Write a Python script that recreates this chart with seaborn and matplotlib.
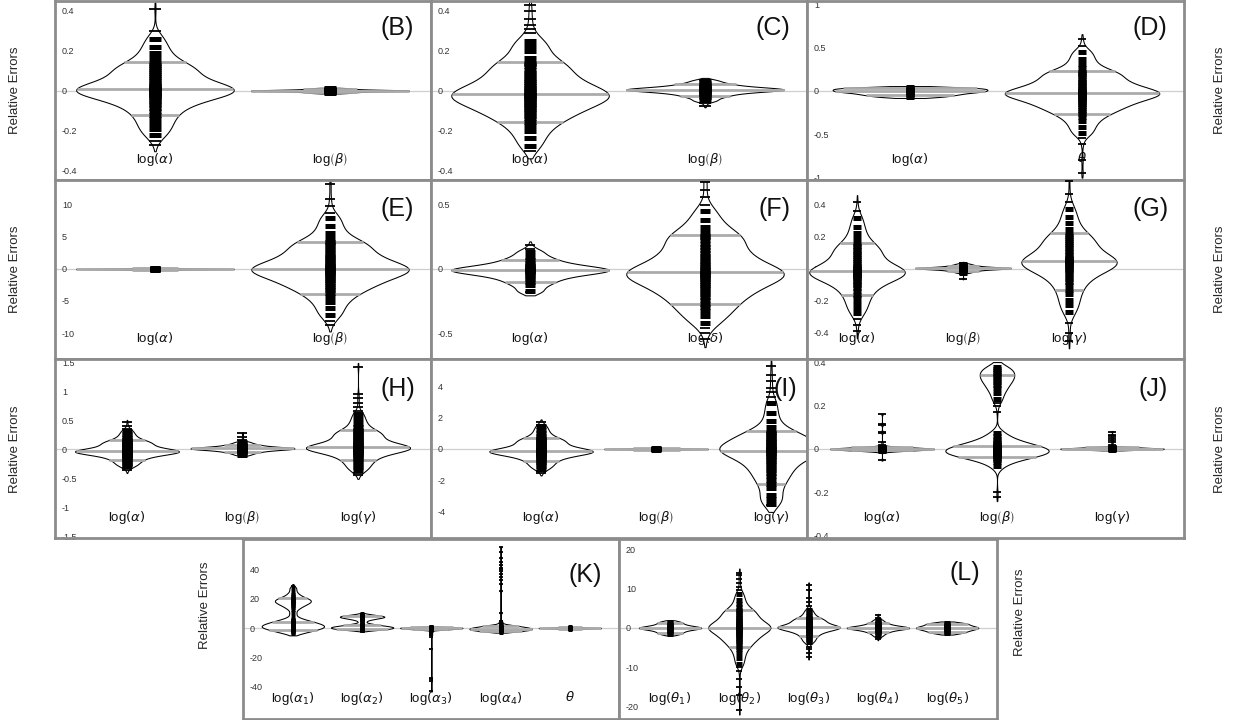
import numpy as np
import pandas as pd
import matplotlib
matplotlib.use("Agg")
import matplotlib.pyplot as plt
from matplotlib.ticker import FuncFormatter
import seaborn as sns

# ---------------- data ----------------
# *_body : values describing the bulk of each bean (each stands for many runs)
# *_out  : isolated single observations in the tails
B_log_alpha_body = [-0.22, -0.19, -0.165, -0.14, -0.12, -0.10, -0.085, -0.07, -0.06, -0.05, -0.04, -0.03,
                    -0.025, -0.02, -0.015, -0.01, -0.005, 0.0, 0.005, 0.01, 0.01, 0.015, 0.02, 0.025, 0.03,
                    0.04, 0.05, 0.06, 0.07, 0.08, 0.09, 0.10, 0.11, 0.12, 0.13, 0.14, 0.165, 0.19, 0.22, 0.26]
B_log_alpha_out = [-0.27, -0.25, 0.30, 0.41]
B_log_beta_body = [-0.012, -0.008, -0.005, -0.003, -0.002, -0.001, 0.0, 0.001, 0.002, 0.003, 0.005, 0.008, 0.012]
B_log_beta_out = []

C_log_alpha_body = [-0.277, -0.236, -0.202, -0.175, -0.155, -0.139, -0.125, -0.113, -0.102, -0.092, -0.082,
                    -0.073, -0.065, -0.056, -0.048, -0.042, -0.035, -0.029, -0.024, -0.02, -0.015, -0.009,
                    -0.002, 0.006, 0.014, 0.023, 0.033, 0.042, 0.054, 0.065, 0.078, 0.09, 0.105, 0.121, 0.132,
                    0.14, 0.164, 0.196, 0.225, 0.25]
C_log_alpha_out = [-0.30, 0.29, 0.31, 0.33, 0.36, 0.40, 0.43]
C_log_beta_body = [-0.049, -0.034, -0.025, -0.0175, -0.0115, -0.007, -0.0034, -0.0001, 0.0026, 0.005, 0.005,
                   0.007, 0.009, 0.012, 0.015, 0.019, 0.024, 0.03, 0.0375, 0.05]
C_log_beta_out = [-0.075, -0.06, 0.055]

D_log_alpha_body = [-0.07, -0.05, -0.035, -0.02, -0.01, 0.0, 0.01, 0.02, 0.03, 0.04]
D_log_alpha_out = []
D_theta_body = [-0.486, -0.414, -0.354, -0.306, -0.27, -0.241, -0.217, -0.196, -0.176, -0.157, -0.14, -0.124,
                -0.109, -0.095, -0.08, -0.068, -0.056, -0.047, -0.037, -0.03, -0.022, -0.012, -0.002, 0.01,
                0.022, 0.037, 0.052, 0.067, 0.085, 0.102, 0.122, 0.142, 0.165, 0.19, 0.207, 0.22, 0.257, 0.307,
                0.37, 0.445]
D_theta_out = [-0.95, -0.80, -0.62, -0.55, 0.52, 0.60]

E_log_alpha_body = [-0.15, -0.08, -0.04, -0.02, 0.0, 0.02, 0.04, 0.08, 0.15]
E_log_alpha_out = []
E_log_beta_body = [-7.2, -6.1, -5.1, -4.4, -3.8, -3.3, -3.0, -2.6, -2.3, -2.0, -1.75, -1.5, -1.25, -1.0, -0.8,
                   -0.6, -0.42, -0.27, -0.11, 0.0, 0.13, 0.29, 0.46, 0.67, 0.88, 1.13, 1.39, 1.64, 1.93, 2.23,
                   2.56, 2.9, 3.28, 3.7, 3.99, 4.2, 4.83, 5.67, 6.72, 7.98]
E_log_beta_out = [-8.8, -8.2, 8.8, 9.8, 11.0, 13.2]

F_log_alpha_body = [-0.172, -0.127, -0.1, -0.078, -0.06, -0.046, -0.035, -0.025, -0.017, -0.01, -0.01, -0.004,
                    0.004, 0.012, 0.022, 0.034, 0.05, 0.07, 0.094, 0.134]
F_log_alpha_out = [-0.18, 0.16, 0.19]
F_log_delta_body = [-0.42, -0.37, -0.33, -0.30, -0.27, -0.241, -0.217, -0.196, -0.176, -0.157, -0.14, -0.124,
                    -0.109, -0.095, -0.08, -0.068, -0.056, -0.047, -0.037, -0.03, -0.021, -0.01, 0.002, 0.016,
                    0.031, 0.048, 0.066, 0.083, 0.103, 0.124, 0.147, 0.17, 0.196, 0.225, 0.246, 0.26, 0.29,
                    0.33, 0.38, 0.45]
F_log_delta_out = [-0.55, -0.50, -0.46, 0.50, 0.56, 0.62, 0.68, 0.74, 0.80]

G_log_alpha_body = [-0.276, -0.241, -0.213, -0.183, -0.16, -0.138, -0.12, -0.103, -0.091, -0.079, -0.067,
                    -0.057, -0.051, -0.045, -0.039, -0.033, -0.028, -0.022, -0.016, -0.01, -0.01, -0.003, 0.004,
                    0.01, 0.016, 0.029, 0.043, 0.055, 0.068, 0.082, 0.095, 0.107, 0.121, 0.135, 0.146, 0.16,
                    0.192, 0.225, 0.265, 0.316]
G_log_alpha_out = [-0.39, -0.35, -0.31, 0.36, 0.42]
G_log_beta_body = [-0.022, -0.0145, -0.01, -0.006, -0.003, -0.001, 0.001, 0.0025, 0.004, 0.005, 0.005, 0.006,
                   0.0075, 0.009, 0.011, 0.013, 0.016, 0.02, 0.0245, 0.032]
G_log_beta_out = [-0.06, -0.03, 0.04]
G_log_gamma_body = [-0.269, -0.227, -0.193, -0.157, -0.13, -0.103, -0.081, -0.062, -0.047, -0.033, -0.018,
                    -0.006, 0.001, 0.009, 0.016, 0.023, 0.028, 0.036, 0.043, 0.05, 0.05, 0.057, 0.064, 0.07,
                    0.076, 0.089, 0.103, 0.115, 0.128, 0.142, 0.155, 0.167, 0.181, 0.195, 0.206, 0.22, 0.252,
                    0.285, 0.325, 0.376]
G_log_gamma_out = [-0.45, -0.40, -0.34, 0.42, 0.47, 0.55]

H_log_alpha_body = [-0.296, -0.261, -0.233, -0.203, -0.18, -0.158, -0.14, -0.123, -0.111, -0.099, -0.087,
                    -0.077, -0.071, -0.065, -0.059, -0.053, -0.048, -0.042, -0.036, -0.03, -0.03, -0.023,
                    -0.016, -0.008, -0.003, 0.011, 0.026, 0.038, 0.053, 0.067, 0.082, 0.094, 0.109, 0.123,
                    0.136, 0.15, 0.184, 0.218, 0.262, 0.316]
H_log_alpha_out = [-0.37, -0.33, 0.35, 0.40, 0.46]
H_log_beta_body = [-0.098, -0.068, -0.05, -0.035, -0.023, -0.014, -0.0068, 0.0, 0.0052, 0.01, 0.01, 0.0148,
                   0.0202, 0.0268, 0.034, 0.043, 0.055, 0.07, 0.088, 0.118]
H_log_beta_out = [0.15, 0.20, 0.27]
H_log_gamma_body = [-0.367, -0.314, -0.27, -0.225, -0.19, -0.156, -0.128, -0.103, -0.084, -0.066, -0.047,
                    -0.031, -0.022, -0.013, -0.004, 0.006, 0.012, 0.022, 0.031, 0.04, 0.04, 0.052, 0.063, 0.075,
                    0.084, 0.107, 0.13, 0.15, 0.173, 0.197, 0.22, 0.24, 0.263, 0.287, 0.307, 0.33, 0.385, 0.44,
                    0.51, 0.597]
H_log_gamma_out = [-0.45, -0.41, 0.65, 0.72, 0.80, 0.88, 0.95, 1.42]

I_log_alpha_body = [-1.25, -1.1, -0.98, -0.85, -0.75, -0.65, -0.57, -0.5, -0.45, -0.4, -0.35, -0.3, -0.28,
                    -0.25, -0.22, -0.2, -0.18, -0.15, -0.13, -0.1, -0.1, -0.07, -0.04, -0.005, 0.02, 0.085,
                    0.15, 0.2, 0.27, 0.33, 0.4, 0.45, 0.52, 0.58, 0.64, 0.7, 0.85, 1.0, 1.2, 1.44]
I_log_alpha_out = [-1.5, -1.4, 1.55, 1.7]
I_log_beta_body = [-0.04, -0.02, -0.01, 0.0, 0.01, 0.02, 0.04]
I_log_beta_out = []
I_log_gamma_body = [-3.5, -3.2, -2.9, -2.5, -2.2, -1.95, -1.75, -1.55, -1.37, -1.2, -1.05, -0.9, -0.77, -0.65,
                    -0.54, -0.44, -0.35, -0.27, -0.2, -0.13, -0.09, -0.04, 0.005, 0.07, 0.13, 0.2, 0.28, 0.35,
                    0.44, 0.52, 0.62, 0.72, 0.83, 0.95, 1.04, 1.1, 1.4, 1.8, 2.3, 2.9]
I_log_gamma_out = [-3.6, 3.3, 3.6, 3.9, 4.3, 4.7, 5.3]

J_log_alpha_body = [-0.01, -0.007, -0.005, -0.003, -0.002, -0.001, 0.0, 0.001, 0.002, 0.003, 0.005, 0.007, 0.01]
J_log_alpha_out = [-0.05, 0.02, 0.03, 0.075, 0.08, 0.11, 0.115, 0.16]
J_log_beta_body = [-0.08, -0.06, -0.05, -0.042, -0.035, -0.032, -0.029, -0.026, -0.023, -0.02, -0.017, -0.014,
                   -0.011, -0.008, -0.005, -0.002, 0.001, 0.004, 0.007, 0.01, 0.014, 0.018, 0.023, 0.029,
                   0.036, 0.045, 0.058, 0.075, 0.23, 0.26, 0.28, 0.295, 0.31, 0.32, 0.33, 0.34, 0.35, 0.36,
                   0.37, 0.38]
J_log_beta_out = [-0.22, -0.20, 0.17, 0.20, 0.21]
J_log_gamma_body = [-0.004, -0.002, -0.001, 0.0, 0.001, 0.002, 0.003, 0.005, 0.007, 0.01]
J_log_gamma_out = [0.02, 0.03, 0.04, 0.05, 0.06, 0.065, 0.08]

K_log_alpha1_body = [-3.5, -2.8, -2.2, -1.6, -1.1, -0.7, -0.3, 0.0, 0.3, 0.6, 0.9, 1.2, 1.5, 1.8, 2.1, 2.4,
                     2.8, 3.2, 3.6, 4.0, 4.5, 5.0, 5.8, 7.0, 10.0, 13.0, 14.5, 15.5, 16.3, 17.0, 17.6, 18.1,
                     18.6, 19.1, 19.6, 20.2, 21.0, 22.2, 24.0, 27.0]
K_log_alpha1_out = [28.5]
K_log_alpha2_body = [-1.6, -1.3, -1.0, -0.8, -0.6, -0.45, -0.3, -0.15, 0.0, 0.15, 0.3, 0.45, 0.6, 0.75, 0.9,
                     1.05, 1.2, 1.4, 1.6, 1.8, 2.1, 2.4, 2.8, 3.3, 4.5, 5.5, 6.0, 6.4, 6.7, 7.0, 7.2, 7.4, 7.6,
                     7.8, 8.0, 8.2, 8.4, 8.7, 9.0, 9.6]
K_log_alpha2_out = []
K_log_alpha3_body = [-1.2, -0.9, -0.7, -0.5, -0.35, -0.2, -0.1, 0.0, 0.1, 0.2, 0.35, 0.5, 0.7]
K_log_alpha3_out = [-43.0, -36.0, -35.0, -34.0, -14.0, -6.0, -5.0, -4.5, -4.0, -3.5, -3.0, -2.5, -2.0]
K_log_alpha4_body = [-2.5, -2.0, -1.6, -1.3, -1.0, -0.7, -0.4, -0.1, 0.2, 0.5, 0.9, 1.4, 2.0]
K_log_alpha4_out = [2.5, 3.0, 3.5, 4.0, 4.5, 5.0, 10.0, 25.0, 30.0, 33.0, 35.0, 37.0, 39.0, 40.0, 41.0, 43.0,
                    45.0, 48.0, 52.0, 55.0]
K_theta_body = [-0.6, -0.3, -0.1, 0.0, 0.1, 0.3, 0.6]
K_theta_out = []

L_log_theta1_body = [-1.6, -1.2, -0.8, -0.5, -0.3, -0.1, 0.0, 0.1, 0.3, 0.5, 0.8, 1.2, 1.6]
L_log_theta1_out = []
L_log_theta2_body = [-9.1, -7.7, -6.5, -5.5, -4.8, -4.2, -3.7, -3.3, -2.9, -2.5, -2.2, -1.9, -1.6, -1.3, -1.0,
                     -0.77, -0.53, -0.34, -0.14, 0.0, 0.14, 0.32, 0.5, 0.72, 0.95, 1.2, 1.5, 1.75, 2.07, 2.4,
                     2.75, 3.1, 3.5, 3.96, 4.28, 4.5, 5.2, 6.1, 7.2, 8.55]
L_log_theta2_out = [-21.0, -17.0, -15.0, -13.0, -11.0, -10.0, 9.5, 10.5, 11.5, 12.5, 13.5, 14.0]
L_log_theta3_body = [-3.73, -3.22, -2.79, -2.34, -2.0, -1.66, -1.39, -1.15, -0.97, -0.79, -0.6, -0.45, -0.36,
                     -0.27, -0.18, -0.09, -0.02, 0.07, 0.16, 0.25, 0.25, 0.34, 0.43, 0.52, 0.59, 0.77, 0.95, 1.1,
                     1.29, 1.47, 1.65, 1.8, 1.98, 2.16, 2.32, 2.5, 2.93, 3.36, 3.9, 4.57]
L_log_theta3_out = [-7.5, -6.5, -5.5, -4.8, 5.5, 6.5, 7.5, 9.5, 11.0]
L_log_theta4_body = [-1.98, -1.43, -1.1, -0.83, -0.6, -0.44, -0.31, -0.19, -0.09, 0.0, 0.0, 0.09, 0.19, 0.31,
                     0.44, 0.6, 0.83, 1.1, 1.43, 1.98]
L_log_theta4_out = [-2.8, -2.4, 2.6, 3.2]
L_log_theta5_body = [-1.4, -1.0, -0.7, -0.4, -0.2, 0.0, 0.2, 0.4, 0.7, 1.0, 1.3]
L_log_theta5_out = []

# category labels
lab_a = r"log$\left(\alpha\right)$"
lab_b = r"log$\left(\beta\right)$"
lab_g = r"log$\left(\gamma\right)$"
lab_d = r"log$\left(\delta\right)$"
lab_t = r"$\theta$"
lab_a1, lab_a2, lab_a3, lab_a4 = [r"log$\left(\alpha_{%d}\right)$" % i for i in range(1, 5)]
lab_t1, lab_t2, lab_t3, lab_t4, lab_t5 = [r"log$\left(\theta_{%d}\right)$" % i for i in range(1, 6)]

yticks_B = [-0.4, -0.2, 0, 0.2, 0.4]
yticks_D = [-1, -0.5, 0, 0.5, 1]
yticks_E = [-10, -5, 0, 5, 10]
yticks_F = [-0.5, 0, 0.5]
yticks_H = [-1.5, -1, -0.5, 0, 0.5, 1, 1.5]
yticks_I = [-4, -2, 0, 2, 4]
yticks_K = [-40, -20, 0, 20, 40]
yticks_L = [-20, -10, 0, 10, 20]

BODY_WEIGHT = 10  # each body value stands for this many runs in the density

# ---------------- style / layout ----------------
sns.set_style("white")
plt.rcParams["font.family"] = ["Liberation Sans", "DejaVu Sans"]
plt.rcParams["axes.unicode_minus"] = False
plt.rcParams["mathtext.fontset"] = "dejavusans"

W, H = 1237, 720
fig = plt.figure(figsize=(W / 100, H / 100), dpi=100)

panels = [
    dict(letter="B", cats=[lab_a, lab_b],
         data=[(B_log_alpha_body, B_log_alpha_out), (B_log_beta_body, B_log_beta_out)], bw=[1.0, 1.0],
         rect=(55, 1, 431, 180), xlim=(-0.571, 1.577), ylim=(-0.447, 0.448), yt=yticks_B, rug=8.5, lx=0.955, ly=0.85),
    dict(letter="C", cats=[lab_a, lab_b],
         data=[(C_log_alpha_body, C_log_alpha_out), (C_log_beta_body, C_log_beta_out)], bw=[1.0, 1.0],
         rect=(431, 1, 807, 180), xlim=(-0.566, 1.583), ylim=(-0.447, 0.448), yt=yticks_B, rug=8.5, lx=0.955, ly=0.85),
    dict(letter="D", cats=[lab_a, lab_t],
         data=[(D_log_alpha_body, D_log_alpha_out), (D_theta_body, D_theta_out)], bw=[1.0, 0.8],
         rect=(807, 1, 1184, 180), xlim=(-0.599, 1.593), ylim=(-1.03, 1.035), yt=yticks_D, rug=5.5, lx=0.955, ly=0.85),
    dict(letter="E", cats=[lab_a, lab_b],
         data=[(E_log_alpha_body, E_log_alpha_out), (E_log_beta_body, E_log_beta_out)], bw=[1.0, 0.9],
         rect=(55, 180, 431, 359), xlim=(-0.571, 1.577), ylim=(-14.06, 13.9), yt=yticks_E, rug=7.5, lx=0.955, ly=0.84),
    dict(letter="F", cats=[lab_a, lab_d],
         data=[(F_log_alpha_body, F_log_alpha_out), (F_log_delta_body, F_log_delta_out)], bw=[1.0, 0.9],
         rect=(431, 180, 807, 359), xlim=(-0.566, 1.583), ylim=(-0.703, 0.695), yt=yticks_F, rug=7.5, lx=0.955, ly=0.84),
    dict(letter="G", cats=[lab_a, lab_b, lab_g],
         data=[(G_log_alpha_body, G_log_alpha_out), (G_log_beta_body, G_log_beta_out),
               (G_log_gamma_body, G_log_gamma_out)], bw=[1.0, 1.0, 1.0],
         rect=(807, 180, 1184, 359), xlim=(-0.472, 3.085), ylim=(-0.5625, 0.556), yt=yticks_B, rug=6, lx=0.96, ly=0.84),
    dict(letter="H", cats=[lab_a, lab_b, lab_g],
         data=[(H_log_alpha_body, H_log_alpha_out), (H_log_beta_body, H_log_beta_out),
               (H_log_gamma_body, H_log_gamma_out)], bw=[1.0, 1.0, 0.9],
         rect=(55, 359, 431, 538), xlim=(-0.623, 2.632), ylim=(-1.534, 1.552), yt=yticks_H, rug=7, lx=0.957, ly=0.83),
    dict(letter="I", cats=[lab_a, lab_b, lab_g],
         data=[(I_log_alpha_body, I_log_alpha_out), (I_log_beta_body, I_log_beta_out),
               (I_log_gamma_body, I_log_gamma_out)], bw=[1.0, 1.0, 0.9],
         rect=(431, 359, 807, 538), xlim=(-0.957, 2.313), ylim=(-5.67, 5.73), yt=yticks_I, rug=7, lx=0.975, ly=0.83),
    dict(letter="J", cats=[lab_a, lab_b, lab_g],
         data=[(J_log_alpha_body, J_log_alpha_out), (J_log_beta_body, J_log_beta_out),
               (J_log_gamma_body, J_log_gamma_out)], bw=[0.5, 0.45, 0.55],
         rect=(807, 359, 1184, 538), xlim=(-0.652, 2.626), ylim=(-0.411, 0.415), yt=yticks_B, rug=6, lx=0.957, ly=0.83),
    dict(letter="K", cats=[lab_a1, lab_a2, lab_a3, lab_a4, lab_t],
         data=[(K_log_alpha1_body, K_log_alpha1_out), (K_log_alpha2_body, K_log_alpha2_out),
               (K_log_alpha3_body, K_log_alpha3_out), (K_log_alpha4_body, K_log_alpha4_out),
               (K_theta_body, K_theta_out)], bw=[0.55, 0.55, 0.15, 0.15, 1.0],
         rect=(243, 539, 619, 719), xlim=(-0.72, 4.71), ylim=(-62, 60.7), yt=yticks_K, rug=3.5, lx=0.955, ly=0.80),
    dict(letter="L", cats=[lab_t1, lab_t2, lab_t3, lab_t4, lab_t5],
         data=[(L_log_theta1_body, L_log_theta1_out), (L_log_theta2_body, L_log_theta2_out),
               (L_log_theta3_body, L_log_theta3_out), (L_log_theta4_body, L_log_theta4_out),
               (L_log_theta5_body, L_log_theta5_out)], bw=[1.0, 0.8, 0.9, 1.0, 1.0],
         rect=(619, 539, 997, 719), xlim=(-0.737, 4.72), ylim=(-23.2, 22.6), yt=yticks_L, rug=5, lx=0.955, ly=0.81),
]


def poly_extent(coll, y):
    v = coll.get_paths()[0].vertices
    x0, y0, x1, y1 = v[:-1, 0], v[:-1, 1], v[1:, 0], v[1:, 1]
    m = (np.minimum(y0, y1) <= y) & (np.maximum(y0, y1) >= y) & (y0 != y1)
    if not m.any():
        return None
    t = (y - y0[m]) / (y1[m] - y0[m])
    xs = x0[m] + t * (x1[m] - x0[m])
    return xs.min(), xs.max()


fmt = FuncFormatter(lambda v, p: f"{v:g}")

for P in panels:
    x0, y0, x1, y1 = P["rect"]
    ax = fig.add_axes([x0 / W, 1 - y1 / H, (x1 - x0) / W, (y1 - y0) / H])
    ax.axhline(0, color="#cfcfcf", lw=0.9, zorder=0.5)
    cats = P["cats"]
    body_frames, out_frames = [], []
    for cat, (body, out), bwa in zip(cats, P["data"], P["bw"]):
        bulk = np.repeat(np.asarray(body, float), BODY_WEIGHT)
        sample = np.concatenate([bulk, np.asarray(out, float)])
        df = pd.DataFrame({"param": cat, "value": sample})
        body_frames.append(pd.DataFrame({"param": cat, "value": list(body)}))
        out_frames.append(pd.DataFrame({"param": cat, "value": list(out)}))
        n0 = len(ax.collections)
        sns.violinplot(data=df, x="param", y="value", order=cats, color="white", linecolor="black",
                       linewidth=0.75, inner=None, density_norm="width", width=0.9, cut=1,
                       bw_adjust=bwa, saturation=1, ax=ax)
        coll = ax.collections[n0]
        for q in (10, 50, 90):
            yq = np.percentile(bulk, q)
            ext = poly_extent(coll, yq)
            if ext is not None:
                ax.hlines(yq, ext[0], ext[1], color="#ababab", lw=2.0, zorder=2)
    body_df = pd.concat(body_frames, ignore_index=True)
    out_df = pd.concat(out_frames, ignore_index=True)
    sns.stripplot(data=body_df, x="param", y="value", order=cats, jitter=False, marker="_",
                  size=P["rug"], linewidth=3.6, color="black", ax=ax, zorder=3)
    if len(out_df):
        sns.stripplot(data=out_df, x="param", y="value", order=cats, jitter=False, marker="_",
                      size=P["rug"], linewidth=1.3, color="black", ax=ax, zorder=3)

    ax.set_xlim(*P["xlim"])
    ax.set_ylim(*P["ylim"])
    ax.set_yticks(P["yt"])
    ax.yaxis.set_major_formatter(fmt)
    ax.set_xlabel("")
    ax.set_ylabel("")
    ax.tick_params(axis="x", length=0, pad=-21, labelsize=9.5, labelcolor="#111111")
    ax.tick_params(axis="y", direction="in", length=4, width=0.8, pad=-5, labelsize=6.5,
                   color="#333333", labelcolor="#333333")
    plt.setp(ax.get_yticklabels(), ha="left")
    for s in ax.spines.values():
        s.set_color("#8c8c8c")
        s.set_linewidth(2)
    ax.text(P["lx"], P["ly"], f"({P['letter']})", transform=ax.transAxes, ha="right", va="center",
            fontsize=18, color="#111111")

# "Relative Errors" labels
for yc in (90, 269, 449):
    fig.text(15 / W, 1 - yc / H, "Relative Errors", rotation=90, ha="center", va="center", fontsize=9.5)
    fig.text(1220 / W, 1 - yc / H, "Relative Errors", rotation=90, ha="center", va="center", fontsize=9.5)
fig.text(205 / W, 1 - 605 / H, "Relative Errors", rotation=90, ha="center", va="center", fontsize=9.5)
fig.text(1020 / W, 1 - 612 / H, "Relative Errors", rotation=90, ha="center", va="center", fontsize=9.5)

fig.savefig("out.png", dpi=100)
